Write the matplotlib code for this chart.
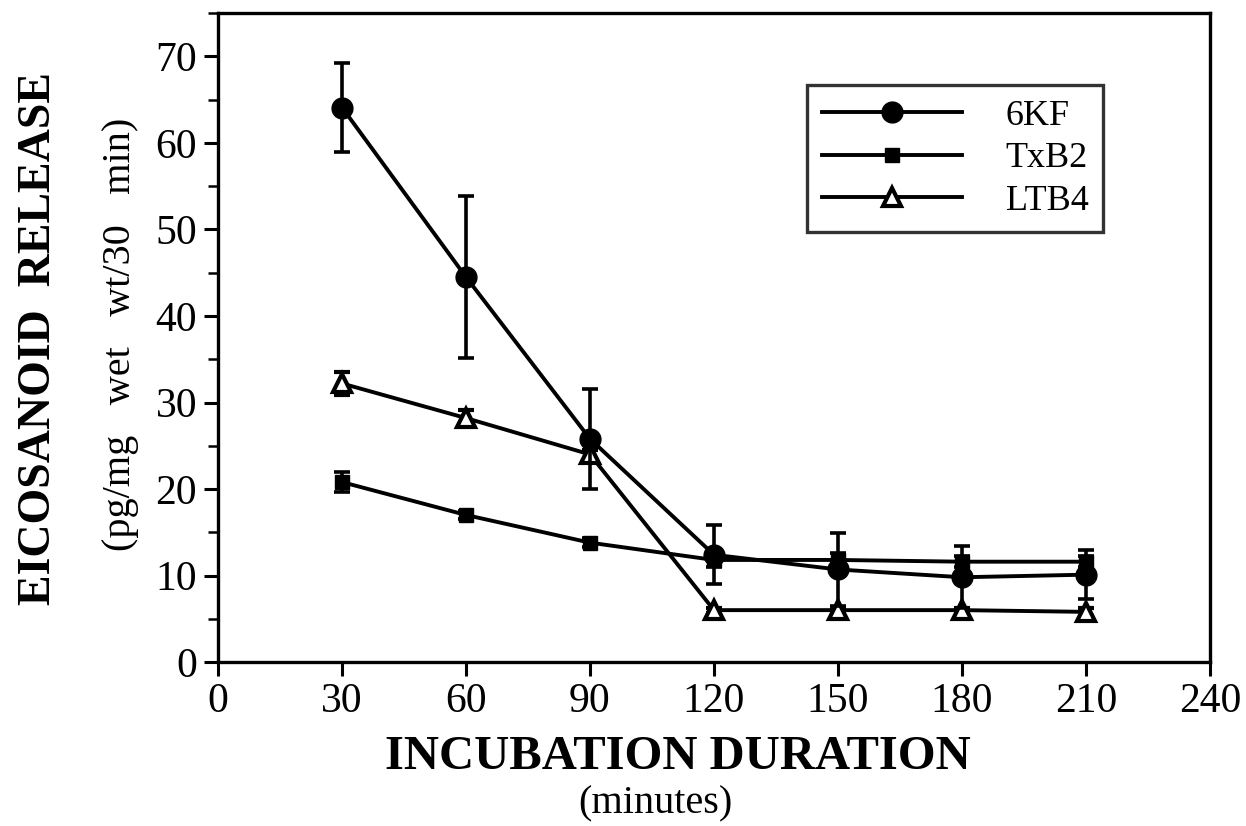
import matplotlib
matplotlib.use("Agg")
import matplotlib.pyplot as plt
from matplotlib.ticker import MultipleLocator
from matplotlib.lines import Line2D

time_min = [30, 60, 90, 120, 150, 180, 210]
kf6 = [64.1, 44.5, 25.8, 12.4, 10.7, 9.8, 10.1]
kf6_err = [5.2, 9.4, 5.8, 3.4, 4.2, 3.6, 2.8]
txb2 = [20.8, 17.0, 13.8, 11.8, 11.8, 11.6, 11.6]
txb2_err = [1.2, 0.5, 0.5, 0.8, 0.8, 0.6, 0.6]
ltb4 = [32.2, 28.2, 24.0, 6.0, 6.0, 6.0, 5.8]
ltb4_err = [1.3, 0.9, 0.5, 0.3, 0.3, 0.3, 0.5]
series_names = ["6KF", "TxB2", "LTB4"]
x_ticks = [0, 30, 60, 90, 120, 150, 180, 210, 240]
y_ticks = [0, 10, 20, 30, 40, 50, 60, 70]

plt.rcParams['font.family'] = ['Liberation Serif', 'DejaVu Serif']

fig = plt.figure(figsize=(12.46, 8.26), dpi=100)
ax = fig.add_axes([0.175, 0.1985, 0.796, 0.7855])

lw = 2.8
common = dict(color='black', lw=lw, elinewidth=2.6, capsize=5.5, capthick=2.6)
ax.errorbar(time_min, txb2, yerr=txb2_err, marker='s', ms=10, mfc='black', mec='black', **common, zorder=3)
ax.errorbar(time_min, ltb4, yerr=ltb4_err, marker='^', ms=13, mfc='white', mec='black', mew=3, **common, zorder=4)
ax.errorbar(time_min, kf6, yerr=kf6_err, marker='o', ms=15, mfc='black', mec='black', **common, zorder=5)

ax.set_xlim(0, 240)
ax.set_ylim(0, 75)
ax.set_xticks(x_ticks)
ax.set_yticks(y_ticks)
ax.yaxis.set_minor_locator(MultipleLocator(5))
ax.tick_params(axis='both', which='major', direction='out', length=10, width=2.2, labelsize=30, pad=5)
ax.tick_params(axis='y', which='minor', direction='out', length=7, width=1.8)
for s in ax.spines.values():
    s.set_linewidth(2.4)

fig.text(0.031, 0.59, "EICOSANOID  RELEASE", rotation=90, ha='center', va='center',
         fontsize=33, fontweight='bold')
fig.text(0.097, 0.595, "(pg/mg   wet   wt/30   min)", rotation=90, ha='center', va='center',
         fontsize=29)
fig.text(0.544, 0.083, "INCUBATION DURATION", ha='center', va='center',
         fontsize=35, fontweight='bold')
fig.text(0.526, 0.027, "(minutes)", ha='center', va='center', fontsize=29)

handles = [
    Line2D([], [], color='black', lw=lw, marker='o', ms=15, mfc='black'),
    Line2D([], [], color='black', lw=lw, marker='s', ms=10, mfc='black'),
    Line2D([], [], color='black', lw=lw, marker='^', ms=13, mfc='white', mew=3),
]
leg = ax.legend(handles, series_names, loc='upper left', bbox_to_anchor=(0.594, 0.889),
                fontsize=26, frameon=True, fancybox=False, edgecolor='black',
                handlelength=3.9, handletextpad=1.2, borderpad=0.4, labelspacing=0.25,
                borderaxespad=0)
leg.get_frame().set_linewidth(2.4)

fig.savefig("out.png", dpi=100)
